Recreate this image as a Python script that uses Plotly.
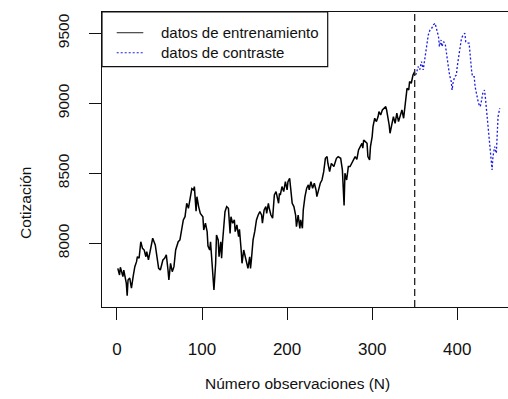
import plotly.graph_objects as go

# Serie de cotizaciones: tramo de entrenamiento y tramo de contraste
obs_train = [1, 3, 4, 7, 8, 11, 12, 13, 15, 17, 19, 21, 23, 24, 26, 28, 30, 32, 34, 35,
             37, 39, 42, 45, 47, 49, 51, 54, 56, 58, 60, 61, 63, 65, 67, 69, 72, 74, 76, 78,
             80, 82, 84, 86, 88, 90, 91, 93, 94, 96, 98, 101, 102, 104, 106, 107, 109, 110, 112, 113,
             114, 116, 117, 119, 120, 122, 123, 124, 126, 127, 129, 131, 133, 134, 136, 138, 139, 141, 143, 144,
             146, 147, 149, 151, 152, 154, 156, 157, 158, 160, 162, 164, 166, 168, 170, 171, 173, 175, 176, 178,
             179, 181, 183, 185, 187, 188, 190, 191, 192, 194, 196, 198, 200, 201, 203, 204, 206, 208, 210, 211,
             213, 215, 216, 218, 219, 221, 223, 225, 226, 228, 230, 232, 234, 235, 237, 239, 241, 243, 245, 247,
             248, 250, 252, 255, 258, 260, 263, 265, 267, 268, 270, 272, 274, 276, 278, 280, 282, 284, 286, 288,
             289, 290, 292, 294, 295, 297, 298, 300, 301, 303, 305, 307, 308, 310, 312, 314, 316, 317, 319, 320,
             321, 323, 325, 327, 329, 331, 333, 335, 337, 338, 340, 341, 343, 344, 346, 348, 350]
price_train = [7821, 7774, 7829, 7762, 7809, 7714, 7625, 7738, 7752, 7679, 7762, 7833, 7869, 7904, 7893, 8011, 7964, 7952, 7904, 7940,
               7881, 7952, 8036, 7988, 7881, 7821, 7809, 7881, 7893, 7917, 7809, 7738, 7857, 7797, 7833, 7952, 8011, 8024, 8095, 8167,
               8190, 8286, 8250, 8330, 8390, 8381, 8405, 8230, 8333, 8262, 8214, 8190, 8095, 8143, 8083, 7980, 7952, 8011, 7857, 7774,
               7666, 7857, 8060, 8024, 7904, 8011, 7893, 8000, 8119, 8226, 8262, 8250, 8071, 8190, 8143, 8167, 8083, 8131, 8047, 8100,
               7952, 7857, 7952, 7904, 7881, 7821, 7904, 7821, 7881, 8024, 8085, 8167, 8202, 8226, 8202, 8143, 8238, 8262, 8214, 8286,
               8250, 8202, 8179, 8345, 8369, 8333, 8286, 8357, 8345, 8405, 8369, 8440, 8381, 8440, 8464, 8405, 8286, 8262, 8202, 8119,
               8202, 8107, 8167, 8107, 8238, 8333, 8393, 8417, 8381, 8440, 8393, 8429, 8381, 8333, 8393, 8429, 8452, 8510, 8607, 8619,
               8570, 8512, 8571, 8548, 8607, 8619, 8607, 8524, 8270, 8500, 8452, 8548, 8548, 8571, 8595, 8619, 8600, 8667, 8690, 8714,
               8679, 8738, 8726, 8714, 8619, 8595, 8690, 8762, 8833, 8893, 8869, 8905, 8940, 8917, 8952, 8964, 8976, 8952, 8893, 8845,
               8786, 8845, 8905, 8857, 8929, 8869, 8905, 8952, 8893, 8952, 9071, 9107, 9095, 9155, 9143, 9202, 9226]

obs_test = [351, 352, 354, 356, 358, 360, 362, 364, 366, 368, 370, 372, 374, 376, 378, 379, 381, 382, 384, 386,
            388, 389, 391, 393, 394, 395, 397, 399, 400, 402, 404, 405, 407, 409, 410, 412, 414, 415, 417, 418,
            420, 421, 423, 425, 427, 428, 430, 432, 433, 434, 435, 437, 438, 439, 441, 442, 444, 446, 447, 448, 450]
price_test = [9202, 9214, 9262, 9240, 9298, 9238, 9321, 9405, 9488, 9524, 9536, 9560, 9571, 9524, 9476, 9405, 9452, 9405, 9440, 9420,
              9310, 9286, 9202, 9155, 9095, 9143, 9190, 9202, 9262, 9333, 9429, 9464, 9488, 9500, 9440, 9429, 9429, 9345, 9226, 9190,
              9190, 9119, 9048, 9000, 8976, 9000, 9071, 9095, 9048, 8976, 8905, 8786, 8714, 8619, 8524, 8619, 8690, 8643, 8762, 8905, 8964]

split_obs = 350
x_ticks = [0, 100, 200, 300, 400]
y_ticks = [8000, 8500, 9000, 9500]

W, H = 508, 399
ML, MR, MT, MB = 102, 0, 12, 92
PW, PH = W - ML - MR, H - MT - MB


def px(xp):
    return (xp - ML) / PW


def py(yp):
    return (MT + PH - yp) / PH


FONT = "Liberation Sans, Arial, Helvetica, sans-serif"
INK = "#111111"
BLUE = "#1a1ae6"

fig = go.Figure()
fig.add_trace(go.Scatter(x=obs_train, y=price_train, mode="lines",
                         line=dict(color="#000000", width=1.5), name="datos de entrenamiento"))
fig.add_trace(go.Scatter(x=obs_test, y=price_test, mode="lines",
                         line=dict(color=BLUE, width=1.3, dash="2px,2px"), name="datos de contraste"))

# separación entre entrenamiento y contraste
fig.add_shape(type="line", xref="x", yref="paper", x0=split_obs, x1=split_obs, y0=0, y1=1,
              line=dict(color="#222222", width=1.3, dash="7px,4px"))

# leyenda dibujada a mano, en la esquina superior izquierda
fig.add_shape(type="rect", xref="paper", yref="paper", x0=px(102), x1=px(327.7), y0=py(66.7), y1=py(12),
              line=dict(color=INK, width=1.2), fillcolor="white", layer="above")
fig.add_shape(type="line", xref="paper", yref="paper", x0=px(116.7), x1=px(143.3), y0=py(32.7), y1=py(32.7),
              line=dict(color="#333333", width=1.1))
fig.add_shape(type="line", xref="paper", yref="paper", x0=px(116.7), x1=px(143.3), y0=py(52.7), y1=py(52.7),
              line=dict(color=BLUE, width=1.1, dash="2px,2px"))
for label, yp in [("datos de entrenamiento", 32.7), ("datos de contraste", 52.7)]:
    fig.add_annotation(text=label, xref="paper", yref="paper", x=px(158.5), y=py(yp),
                       xanchor="left", yanchor="middle", showarrow=False,
                       font=dict(family=FONT, size=15, color=INK))

# títulos de los ejes
fig.add_annotation(text="Número observaciones (N)", xref="paper", yref="paper", x=px(297), y=py(383),
                   xanchor="center", yanchor="middle", showarrow=False,
                   font=dict(family=FONT, size=15.5, color=INK))
fig.add_annotation(text="Cotización", xref="paper", yref="paper", x=px(25), y=py(203),
                   xanchor="center", yanchor="middle", showarrow=False, textangle=-90,
                   font=dict(family=FONT, size=15.5, color=INK))

fig.update_layout(
    width=W, height=H,
    margin=dict(l=ML, r=MR, t=MT, b=MB, pad=0),
    paper_bgcolor="white", plot_bgcolor="white",
    showlegend=False,
    font=dict(family=FONT, size=15.5, color=INK),
)
fig.update_xaxes(range=[-17.6, 459.7], tickvals=x_ticks, ticks="outside", ticklen=12, tickwidth=1.2,
                 tickcolor=INK, showline=True, linecolor=INK, linewidth=1.2, mirror=True,
                 showgrid=False, zeroline=False, ticklabelstandoff=14,
                 tickfont=dict(family=FONT, size=17, color=INK))
fig.update_yaxes(range=[7545, 9652], tickvals=y_ticks, ticks="outside", ticklen=12, tickwidth=1.2,
                 tickcolor=INK, showline=True, linecolor=INK, linewidth=1.2, mirror=False,
                 showgrid=False, zeroline=False, tickangle=-90, ticklabelstandoff=14,
                 tickfont=dict(family=FONT, size=15.5, color=INK))

fig.write_html("out.html")
